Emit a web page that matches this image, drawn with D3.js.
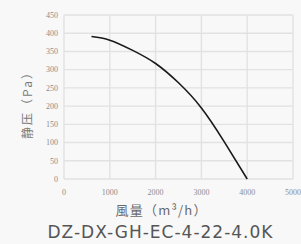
<!DOCTYPE html>
<html>
<head>
<meta charset="utf-8">
<script src="https://cdn.jsdelivr.net/npm/d3@7"></script>
<style>
  body { margin: 0; background: #f8f8f8; }
  svg { display: block; }
</style>
</head>
<body>
<svg id="chart"></svg>
<script>
// curve points
const airflow = [600, 1000, 1500, 2000, 2500, 3000, 3500, 4000];
const pressure = [391, 381, 353, 317, 264, 195, 102, 0];

const xTicks = [0, 1000, 2000, 3000, 4000, 5000];
const yTicks = [0, 50, 100, 150, 200, 250, 300, 350, 400, 450];

const xTitle = "風量（m³/h）";
const yTitle = "静压（Pa）";
const modelName = "DZ-DX-GH-EC-4-22-4.0K";

const width = 301;
const height = 244;
const margin = { top: 15, right: 8, bottom: 65, left: 64 };

const svg = d3.select("#chart")
    .attr("width", width)
    .attr("height", height);

const xScale = d3.scaleLinear()
    .domain([0, 5000])
    .range([margin.left, width - margin.right]);

const yScale = d3.scaleLinear()
    .domain([0, 450])
    .range([height - margin.bottom, margin.top]);

// grid
svg.append("g")
    .selectAll("line")
    .data(xTicks)
    .enter()
    .append("line")
    .attr("x1", d => xScale(d))
    .attr("x2", d => xScale(d))
    .attr("y1", yScale(0))
    .attr("y2", yScale(450))
    .style("stroke", "#e2e2e2")
    .style("stroke-width", 1.4);

svg.append("g")
    .selectAll("line")
    .data(yTicks)
    .enter()
    .append("line")
    .attr("x1", xScale(0))
    .attr("x2", xScale(5000))
    .attr("y1", d => yScale(d))
    .attr("y2", d => yScale(d))
    .style("stroke", "#e2e2e2")
    .style("stroke-width", 1.4);

// tick labels
svg.append("g")
    .selectAll("text")
    .data(yTicks)
    .enter()
    .append("text")
    .attr("x", xScale(0) - 6)
    .attr("y", d => yScale(d))
    .attr("dy", "0.35em")
    .style("text-anchor", "end")
    .style("font-family", "Liberation Serif")
    .style("font-size", "8px")
    .style("fill", "#8c8c8c")
    .text(d => d);

svg.append("g")
    .selectAll("text")
    .data(xTicks)
    .enter()
    .append("text")
    .attr("x", d => xScale(d))
    .attr("y", yScale(0) + 13)
    .attr("dy", "0.35em")
    .style("text-anchor", "middle")
    .style("font-family", "Liberation Serif")
    .style("font-size", "8px")
    .style("fill", "#8c8c8c")
    .text(d => d);

// curve
const points = airflow.map((d, i) => [d, pressure[i]]);
const line = d3.line()
    .x(d => xScale(d[0]))
    .y(d => yScale(d[1]))
    .curve(d3.curveNatural);

svg.append("path")
    .datum(points)
    .attr("d", line)
    .style("fill", "none")
    .style("stroke", "#1a1a1a")
    .style("stroke-width", 1.6);

// axis titles
svg.append("text")
    .attr("transform", `translate(28, 103) rotate(-90)`)
    .attr("dy", "0.35em")
    .style("text-anchor", "middle")
    .style("font-family", "Noto Sans CJK SC")
    .style("font-size", "12px")
    .style("fill", "#7a7a7a")
    .attr("textLength", 72)
    .text(yTitle);

svg.append("text")
    .attr("x", 161)
    .attr("y", 210)
    .attr("dy", "0.35em")
    .style("text-anchor", "middle")
    .style("font-family", "Noto Sans CJK TC")
    .style("font-size", "13px")
    .style("fill", "#6a6a6a")
    .attr("textLength", 91)
    .text(xTitle);

svg.append("text")
    .attr("x", 160)
    .attr("y", 232)
    .attr("dy", "0.35em")
    .style("text-anchor", "middle")
    .style("font-family", "DejaVu Sans")
    .style("font-size", "17px")
    .style("fill", "#555")
    .attr("textLength", 225)
    .text(modelName);
</script>
</body>
</html>
